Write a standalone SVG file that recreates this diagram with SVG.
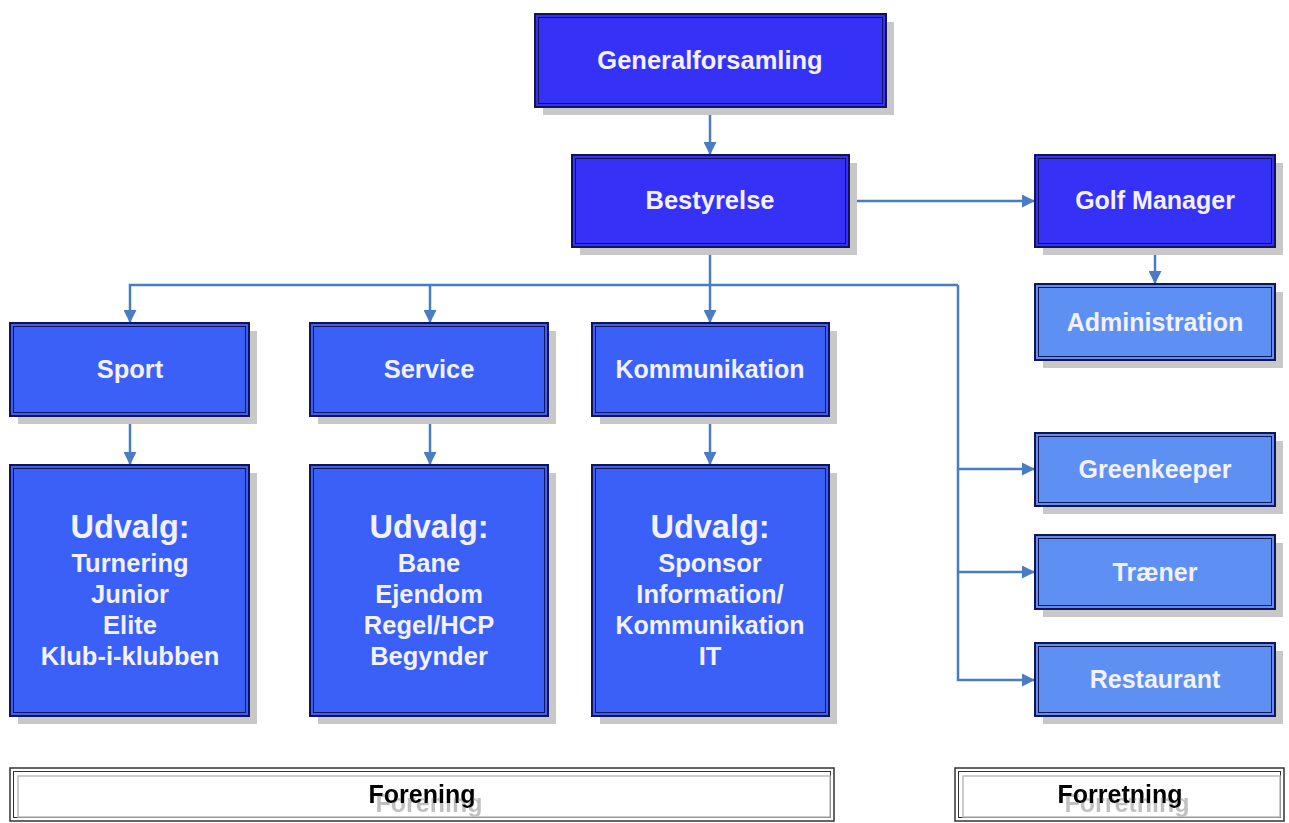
<svg xmlns="http://www.w3.org/2000/svg" width="1289" height="823" viewBox="0 0 1289 823">
<style>
.sh{fill:#c8c8c8}
.b1{fill:#3531f6}
.b2{fill:#3a60f8}
.b3{fill:#5e90f4}
.o{fill:none;stroke:#141452;stroke-width:2}
.i{fill:none;stroke:#141452;stroke-width:1}
.t{font-family:"Liberation Sans",Arial,sans-serif;font-weight:bold;fill:#f2f2ff;text-anchor:middle}
.c{fill:none;stroke:#4a7cc4;stroke-width:2.5}
.bo{fill:#fff;stroke:#333;stroke-width:1.5}
.bi{fill:none;stroke:#bbb;stroke-width:1.5}
.lt{font-family:"Liberation Sans",Arial,sans-serif;font-weight:bold;font-size:25px;text-anchor:middle;fill:#000}
</style>
<defs>
<marker id="ah" markerWidth="13" markerHeight="13" refX="12" refY="6.5" orient="auto" markerUnits="userSpaceOnUse" viewBox="0 0 13 13">
<path d="M0,0 L13,6.5 L0,13 z" fill="#4a7cc4"/>
</marker>
<filter id="ghost" x="-20%" y="-50%" width="140%" height="200%">
<feOffset in="SourceAlpha" dx="7" dy="9" result="off"/>
<feFlood flood-color="#c0c0c0" result="col"/>
<feComposite in="col" in2="off" operator="in" result="sh"/>
<feMerge><feMergeNode in="sh"/><feMergeNode in="SourceGraphic"/></feMerge>
</filter>
</defs>
<rect width="1289" height="823" fill="#fff"/>
<g id="connectors">
<path class="c" d="M710,107 V154" marker-end="url(#ah)"/>
<path class="c" d="M849,201 H1034" marker-end="url(#ah)"/>
<path class="c" d="M1155,247 V283" marker-end="url(#ah)"/>
<path class="c" d="M710,247 V322" marker-end="url(#ah)"/>
<path class="c" d="M958,285 H130 V322" marker-end="url(#ah)"/>
<path class="c" d="M430,285 V322" marker-end="url(#ah)"/>
<path class="c" d="M958,285 V680 H1034" marker-end="url(#ah)"/>
<path class="c" d="M958,469 H1034" marker-end="url(#ah)"/>
<path class="c" d="M958,572 H1034" marker-end="url(#ah)"/>
<path class="c" d="M130,416 V464" marker-end="url(#ah)"/>
<path class="c" d="M430,416 V464" marker-end="url(#ah)"/>
<path class="c" d="M710,416 V464" marker-end="url(#ah)"/>
</g>
<g id="generalforsamling">
<rect class="sh" x="543" y="22" width="351" height="93"/>
<rect class="b1" x="535" y="14" width="351" height="93"/>
<rect class="o" x="535" y="14" width="351" height="93"/>
<rect class="i" x="538.5" y="17.5" width="344" height="86"/>
<text class="t" x="710" y="69" font-size="25.5">Generalforsamling</text>
</g>
<g id="bestyrelse">
<rect class="sh" x="580" y="163" width="277" height="92"/>
<rect class="b1" x="572" y="155" width="277" height="92"/>
<rect class="o" x="572" y="155" width="277" height="92"/>
<rect class="i" x="575.5" y="158.5" width="270" height="85"/>
<text class="t" x="710" y="209" font-size="25.5">Bestyrelse</text>
</g>
<g id="golfmanager">
<rect class="sh" x="1043" y="163" width="240" height="92"/>
<rect class="b1" x="1035" y="155" width="240" height="92"/>
<rect class="o" x="1035" y="155" width="240" height="92"/>
<rect class="i" x="1038.5" y="158.5" width="233" height="85"/>
<text class="t" x="1155" y="209" font-size="25">Golf Manager</text>
</g>
<g id="administration">
<rect class="sh" x="1043" y="292" width="240" height="76"/>
<rect class="b3" x="1035" y="284" width="240" height="76"/>
<rect class="o" x="1035" y="284" width="240" height="76"/>
<rect class="i" x="1038.5" y="287.5" width="233" height="69"/>
<text class="t" x="1155" y="331" font-size="25">Administration</text>
</g>
<g id="sport">
<rect class="sh" x="18" y="331" width="239" height="93"/>
<rect class="b2" x="10" y="323" width="239" height="93"/>
<rect class="o" x="10" y="323" width="239" height="93"/>
<rect class="i" x="13.5" y="326.5" width="232" height="86"/>
<text class="t" x="130" y="378" font-size="25.5">Sport</text>
</g>
<g id="service">
<rect class="sh" x="318" y="331" width="238" height="93"/>
<rect class="b2" x="310" y="323" width="238" height="93"/>
<rect class="o" x="310" y="323" width="238" height="93"/>
<rect class="i" x="313.5" y="326.5" width="231" height="86"/>
<text class="t" x="429" y="378" font-size="25.5">Service</text>
</g>
<g id="kommunikation">
<rect class="sh" x="600" y="331" width="237" height="93"/>
<rect class="b2" x="592" y="323" width="237" height="93"/>
<rect class="o" x="592" y="323" width="237" height="93"/>
<rect class="i" x="595.5" y="326.5" width="230" height="86"/>
<text class="t" x="710" y="378" font-size="25">Kommunikation</text>
</g>
<g id="udvalg-sport">
<rect class="sh" x="18" y="473" width="239" height="251"/>
<rect class="b2" x="10" y="465" width="239" height="251"/>
<rect class="o" x="10" y="465" width="239" height="251"/>
<rect class="i" x="13.5" y="468.5" width="232" height="244"/>
<text class="t" x="130" y="538" font-size="32.5">Udvalg:</text>
<text class="t" x="130" y="572" font-size="25.5">Turnering</text>
<text class="t" x="130" y="603" font-size="25.5">Junior</text>
<text class="t" x="130" y="634" font-size="25.5">Elite</text>
<text class="t" x="130" y="665" font-size="25.5">Klub-i-klubben</text>
</g>
<g id="udvalg-service">
<rect class="sh" x="318" y="473" width="238" height="251"/>
<rect class="b2" x="310" y="465" width="238" height="251"/>
<rect class="o" x="310" y="465" width="238" height="251"/>
<rect class="i" x="313.5" y="468.5" width="231" height="244"/>
<text class="t" x="429" y="538" font-size="32.5">Udvalg:</text>
<text class="t" x="429" y="572" font-size="25.5">Bane</text>
<text class="t" x="429" y="603" font-size="25.5">Ejendom</text>
<text class="t" x="429" y="634" font-size="25.5">Regel/HCP</text>
<text class="t" x="429" y="665" font-size="25.5">Begynder</text>
</g>
<g id="udvalg-kommunikation">
<rect class="sh" x="600" y="473" width="237" height="251"/>
<rect class="b2" x="592" y="465" width="237" height="251"/>
<rect class="o" x="592" y="465" width="237" height="251"/>
<rect class="i" x="595.5" y="468.5" width="230" height="244"/>
<text class="t" x="710" y="538" font-size="32.5">Udvalg:</text>
<text class="t" x="710" y="572" font-size="25.5">Sponsor</text>
<text class="t" x="710" y="603" font-size="25.5">Information/</text>
<text class="t" x="710" y="634" font-size="25">Kommunikation</text>
<text class="t" x="710" y="665" font-size="25.5">IT</text>
</g>
<g id="greenkeeper">
<rect class="sh" x="1043" y="441" width="240" height="73"/>
<rect class="b3" x="1035" y="433" width="240" height="73"/>
<rect class="o" x="1035" y="433" width="240" height="73"/>
<rect class="i" x="1038.5" y="436.5" width="233" height="66"/>
<text class="t" x="1155" y="478" font-size="25">Greenkeeper</text>
</g>
<g id="traener">
<rect class="sh" x="1043" y="543" width="240" height="74"/>
<rect class="b3" x="1035" y="535" width="240" height="74"/>
<rect class="o" x="1035" y="535" width="240" height="74"/>
<rect class="i" x="1038.5" y="538.5" width="233" height="67"/>
<text class="t" x="1155" y="581" font-size="25">Træner</text>
</g>
<g id="restaurant">
<rect class="sh" x="1043" y="651" width="240" height="73"/>
<rect class="b3" x="1035" y="643" width="240" height="73"/>
<rect class="o" x="1035" y="643" width="240" height="73"/>
<rect class="i" x="1038.5" y="646.5" width="233" height="66"/>
<text class="t" x="1155" y="688" font-size="25">Restaurant</text>
</g>
<g id="forening">
<rect class="bo" x="10" y="768" width="824" height="53"/>
<rect class="i" x="13.5" y="771.5" width="817" height="46" style="stroke:#333"/>
<rect class="bi" x="18" y="776" width="812" height="41"/>
<text class="lt" x="422" y="803" filter="url(#ghost)">Forening</text>
</g>
<g id="forretning">
<rect class="bo" x="955" y="768" width="329" height="53"/>
<rect class="i" x="958.5" y="771.5" width="322" height="46" style="stroke:#333"/>
<rect class="bi" x="963" y="776" width="317" height="41"/>
<text class="lt" x="1120" y="803" filter="url(#ghost)">Forretning</text>
</g>
</svg>
